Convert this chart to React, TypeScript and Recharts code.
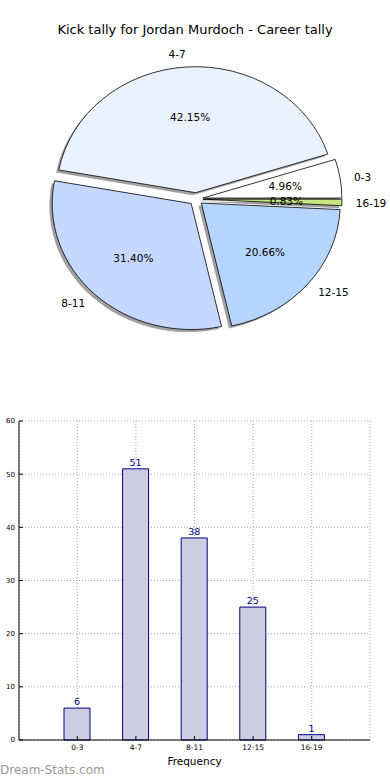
import { Bar, BarChart, CartesianGrid, LabelList, Pie, PieChart, XAxis, YAxis } from "recharts";

const ranges = ["0-3", "4-7", "8-11", "12-15", "16-19"];
const counts = [6, 51, 38, 25, 1];
const sliceColors = ["#ffffff", "#ebf2ff", "#c5d8ff", "#b5d5ff", "#c6e57f"];
const yTicks = [0, 10, 20, 30, 40, 50, 60];

const total = counts.reduce((a, b) => a + b, 0);
const pieData = ranges.map((range, i) => ({ range, count: counts[i], fill: sliceColors[i] }));
const barData = ranges.map((range, i) => ({ range, count: counts[i] }));

const RAD = Math.PI / 180;
const SQUASH = 126 / 139; // pie is drawn on a non-square axes, so it comes out as an ellipse
const EXPLODE = 0.05;

function wedgePath(cx: number, cy: number, rx: number, ry: number, a: number, b: number) {
	const a0 = Math.min(a, b);
	const a1 = Math.max(a, b);
	const x0 = cx + rx * Math.cos(a0 * RAD);
	const y0 = cy - ry * Math.sin(a0 * RAD);
	const x1 = cx + rx * Math.cos(a1 * RAD);
	const y1 = cy - ry * Math.sin(a1 * RAD);
	const large = a1 - a0 > 180 ? 1 : 0;
	return `M${cx},${cy} L${x0},${y0} A${rx},${ry} 0 ${large} 0 ${x1},${y1} Z`;
}

function explodedCenter(props: any) {
	const { cx, cy, outerRadius, startAngle, endAngle } = props;
	const mid = props.midAngle ?? (startAngle + endAngle) / 2;
	const rx = outerRadius;
	const ry = outerRadius * SQUASH;
	return {
		x: cx + EXPLODE * rx * Math.cos(mid * RAD),
		y: cy - EXPLODE * ry * Math.sin(mid * RAD),
		rx,
		ry,
	};
}

function SliceShape(props: any) {
	const c = explodedCenter(props);
	return (
		<path
			d={wedgePath(c.x, c.y, c.rx, c.ry, props.startAngle, props.endAngle)}
			fill={props.fill}
			stroke="#000"
			strokeWidth={0.8}
			strokeLinejoin="round"
		/>
	);
}

function ShadowShape(props: any) {
	const c = explodedCenter(props);
	return (
		<path
			d={wedgePath(c.x - 2.8, c.y + 2.5, c.rx, c.ry, props.startAngle, props.endAngle)}
			fill="#444"
			fillOpacity={0.5}
			stroke="none"
		/>
	);
}

function renderPieLabel(props: any) {
	const { cx, cy, outerRadius, index } = props;
	const mid = props.midAngle;
	const rx = outerRadius;
	const ry = outerRadius * SQUASH;
	const cos = Math.cos(mid * RAD);
	const sin = Math.sin(mid * RAD);
	const ox = cx + EXPLODE * rx * cos;
	const oy = cy - EXPLODE * ry * sin;
	const pct = ((counts[index] / total) * 100).toFixed(2) + "%";
	return (
		<g>
			<text
				x={ox + 1.1 * rx * cos}
				y={oy - 1.1 * ry * sin}
				textAnchor={cos >= 0 ? "start" : "end"}
				dominantBaseline="central"
				fontSize={10.5}
				fill="#000"
			>
				{ranges[index]}
			</text>
			<text
				x={ox + 0.6 * rx * cos}
				y={oy - 0.6 * ry * sin}
				textAnchor="middle"
				dominantBaseline="central"
				fontSize={10.5}
				fill="#000"
			>
				{pct}
			</text>
		</g>
	);
}

const hiddenTick = { fontSize: 1, fill: "transparent" };

export default function App() {
	return (
		<div
			style={{
				position: "absolute",
				left: 0,
				top: 0,
				width: 390,
				height: 780,
				background: "#fff",
				fontFamily: "'DejaVu Sans', sans-serif",
				overflow: "hidden",
			}}
		>
			<div
				style={{
					position: "absolute",
					top: 22,
					left: 0,
					width: 390,
					textAlign: "center",
					fontSize: 13,
					lineHeight: "16px",
					color: "#000",
				}}
			>
				Kick tally for Jordan Murdoch - Career tally
			</div>

			<div style={{ position: "absolute", left: 0, top: 0 }}>
				<PieChart width={390} height={400} margin={{ top: 0, right: 0, bottom: 0, left: 0 }}>
					<Pie
						data={pieData}
						dataKey="count"
						nameKey="range"
						cx={196}
						cy={199}
						outerRadius={139}
						startAngle={0}
						endAngle={360}
						stroke="none"
						shape={ShadowShape}
						inactiveShape={ShadowShape}
						activeShape={ShadowShape}
						isAnimationActive={false}
					/>
					<Pie
						data={pieData}
						dataKey="count"
						nameKey="range"
						cx={196}
						cy={199}
						outerRadius={139}
						startAngle={0}
						endAngle={360}
						shape={SliceShape}
						inactiveShape={SliceShape}
						activeShape={SliceShape}
						labelLine={false}
						label={renderPieLabel}
						isAnimationActive={false}
					/>
				</PieChart>
			</div>

			<div style={{ position: "absolute", left: 0, top: 410 }}>
				<BarChart
					width={390}
					height={370}
					data={barData}
					margin={{ top: 11, right: 20, bottom: 0, left: 0 }}
				>
					<CartesianGrid stroke="#a8a8a8" strokeDasharray="1 2" />
					<XAxis
						dataKey="range"
						padding={{ left: 29, right: 29 }}
						interval={0}
						tick={{ fontSize: 7.5, fill: "#000" }}
						tickLine={{ stroke: "#000" }}
						tickSize={-4}
						tickMargin={9}
						axisLine={{ stroke: "#000" }}
						height={40}
						label={{ value: "Frequency", position: "insideBottom", offset: 15, fontSize: 10.5, fill: "#000" }}
					/>
					<XAxis
						xAxisId="top"
						orientation="top"
						dataKey="range"
						padding={{ left: 29, right: 29 }}
						interval={0}
						height={0}
						tick={hiddenTick}
						tickLine={{ stroke: "#000" }}
						tickSize={-4}
						axisLine={{ stroke: "#000" }}
					/>
					<YAxis
						domain={[0, 60]}
						ticks={yTicks}
						interval={0}
						width={19}
						tick={{ fontSize: 7, fill: "#000" }}
						tickLine={{ stroke: "#000" }}
						tickSize={-4}
						tickMargin={8}
						axisLine={{ stroke: "#000" }}
					/>
					<YAxis
						yAxisId="right"
						orientation="right"
						domain={[0, 60]}
						ticks={yTicks}
						interval={0}
						width={0}
						tick={hiddenTick}
						tickLine={{ stroke: "#000" }}
						tickSize={-4}
						axisLine={{ stroke: "#000" }}
					/>
					<Bar
						dataKey="count"
						fill="#cdcde2"
						stroke="#000080"
						strokeWidth={1}
						barSize={26}
						isAnimationActive={false}
					>
						<LabelList dataKey="count" position="top" offset={3} fill="#000080" fontSize={9.5} />
					</Bar>
				</BarChart>
			</div>

			<div
				style={{
					position: "absolute",
					left: 0,
					top: 763,
					fontSize: 12,
					lineHeight: "15px",
					color: "#999",
				}}
			>
				Dream-Stats.com
			</div>
		</div>
	);
}
